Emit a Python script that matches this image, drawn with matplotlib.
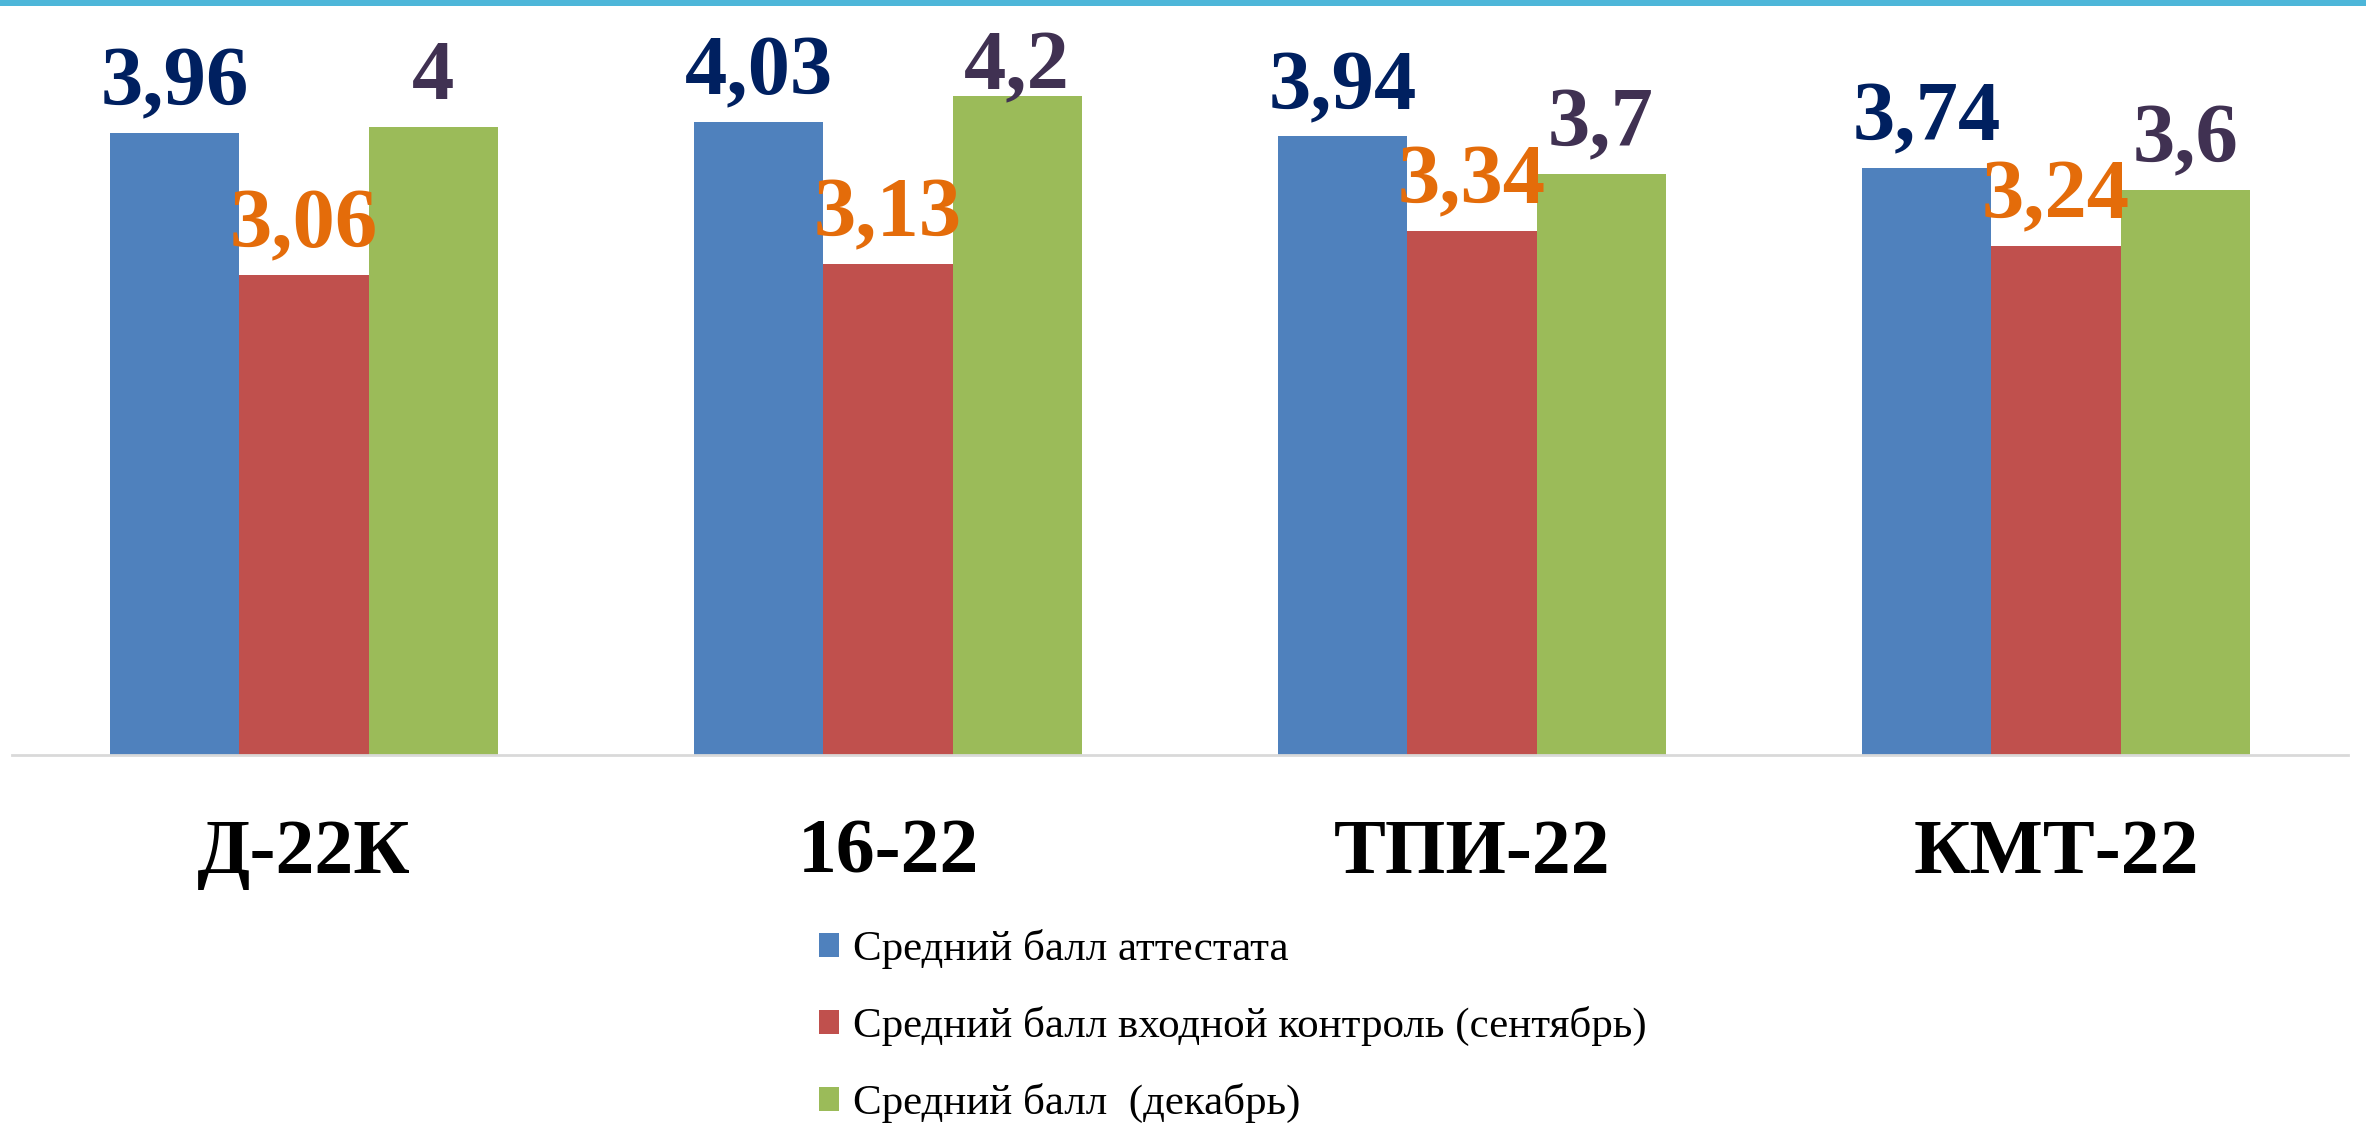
import numpy as np
import matplotlib
matplotlib.use("Agg")
import matplotlib.pyplot as plt
from matplotlib.patches import Patch, Rectangle

# chart data
groups = ["Д-22К", "16-22", "ТПИ-22", "КМТ-22"]
series_names = [
    "Средний балл аттестата",
    "Средний балл входной контроль (сентябрь)",
    "Средний балл  (декабрь)",
]
attestat = [3.96, 4.03, 3.94, 3.74]
september = [3.06, 3.13, 3.34, 3.24]
december = [4.0, 4.2, 3.7, 3.6]

bar_colors = ["#4F81BD", "#C0504D", "#9BBB59"]
label_colors = ["#002060", "#E46C0A", "#403152"]

W, H = 2366, 1123
fig = plt.figure(figsize=(W / 100, H / 100), dpi=100)
fig.patch.set_facecolor("white")

# thin accent line along the top edge of the slide
fig.add_artist(Rectangle((0, 1 - 6 / H), 1, 6 / H, transform=fig.transFigure,
                         facecolor="#4DB6D9", edgecolor="none"))

ax = fig.add_axes([12 / W, (H - 755) / H, 2336 / W, 745 / H])

x = np.arange(len(groups))
width = 0.221
serif = "Liberation Serif"
label_gap = 0.175      # gap between bar top and label baseline (data units)
label_ceiling = 4.24   # labels are pushed down near the top of the plot area

for i, (vals, name) in enumerate(zip([attestat, september, december], series_names)):
    pos = x + (i - 1) * width
    ax.bar(pos, vals, width, color=bar_colors[i], label=name, zorder=2)
    for xp, v in zip(pos, vals):
        txt = f"{v:g}".replace(".", ",")
        ax.text(xp, min(v + label_gap, label_ceiling), txt,
                ha="center", va="baseline", fontsize=61, fontweight="bold",
                family=serif, color=label_colors[i], clip_on=False)

ax.set_xlim(-0.5, len(groups) - 0.5)
ax.set_ylim(0, 4.745)
ax.set_yticks([])
ax.set_xticks(x)
ax.set_xticklabels(groups, fontsize=56, fontweight="bold", family=serif)
ax.tick_params(axis="x", length=0, pad=46)

for s in ["top", "right", "left"]:
    ax.spines[s].set_visible(False)
ax.spines["bottom"].set_color("#D9D9D9")
ax.spines["bottom"].set_linewidth(2)

handles = [Patch(facecolor=c, edgecolor="none") for c in bar_colors]
fig.legend(handles, series_names, loc="upper left",
           bbox_to_anchor=(819 / W, 1 - 929 / H),
           frameon=False, prop={"family": serif, "size": 31},
           handlelength=0.47, handleheight=0.47, handletextpad=0.32,
           labelspacing=0.86, borderpad=0, borderaxespad=0)

fig.savefig("out.png", dpi=100, facecolor="white")
